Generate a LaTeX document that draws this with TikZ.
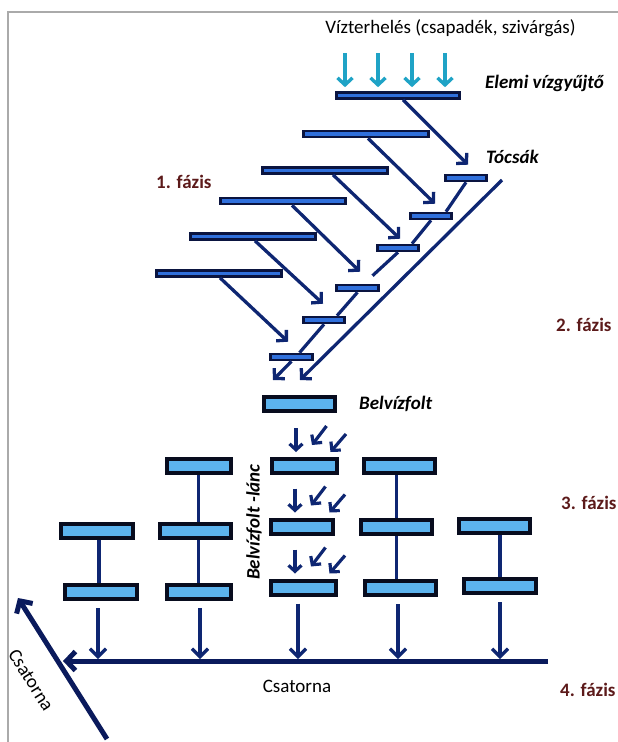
\documentclass[tikz,border=0pt]{standalone}
\usepackage{fontspec}
\setmainfont{Carlito}
\usetikzlibrary{arrows.meta,calc}
\definecolor{barOut}{HTML}{0A1440}
\definecolor{barIn}{HTML}{3070DC}
\definecolor{boxOut}{HTML}{080C1E}
\definecolor{boxIn}{HTML}{5CB3EE}
\definecolor{arrC}{HTML}{0E2672}
\definecolor{chanC}{HTML}{0A1A5C}
\definecolor{cyanC}{HTML}{1FA3C6}
\definecolor{phaseC}{HTML}{5C1A1A}
\definecolor{frameC}{HTML}{AAAAAA}
\tikzset{
  thinbar/.style={rectangle, draw=barOut, fill=barIn, line width=2.6pt, minimum height=6pt, inner sep=0pt},
  bbox/.style={rectangle, draw=boxOut, fill=boxIn, line width=4pt, minimum height=14pt, inner sep=0pt},
  arr/.style={draw=arrC, line width=3.3pt, -{Straight Barb[length=7pt,width=15pt]}},
  sarr/.style={draw=arrC, line width=3.2pt, -{Straight Barb[length=6pt,width=13pt]}},
  varr/.style={draw=arrC, line width=3.2pt, -{Straight Barb[length=8pt,width=16pt]}},
  carr/.style={draw=cyanC, line width=3.4pt, -{Straight Barb[length=7pt,width=15pt]}},
  link/.style={draw=arrC, line width=3.2pt},
  chan/.style={draw=chanC, line width=5pt, -{Straight Barb[length=9pt,width=19pt]}},
  lab/.style={font=\fontsize{19}{22}\selectfont, inner sep=0pt},
  blab/.style={font=\fontsize{19}{22}\selectfont\bfseries\itshape, inner sep=0pt, anchor=west},
  phase/.style={font=\fontsize{19}{22}\selectfont\bfseries, text=phaseC, inner sep=0pt, anchor=west},
}
\begin{document}
\begin{tikzpicture}[x=1pt,y=-1pt]
\useasboundingbox (0,0) rectangle (618,742);
\draw[frameC, line width=1.5pt] (8,742) -- (8,12) -- (618,12);

% labels
\node[lab] (vt) at (450.5,28) {Vízterhelés (csapadék, szivárgás)};
\node[blab] (lelemi) at (485,83) {Elemi vízgyűjtő};
\node[blab] (ltocs) at (486,157) {Tócsák};
\node[phase] (p1) at (156,182) {1. fázis};
\node[phase] (p2) at (556,325) {2. fázis};
\node[phase] (p3) at (561,503) {3. fázis};
\node[phase] (p4) at (560,690) {4. fázis};
\node[blab] (lbelv) at (359,404) {Belvízfolt};
\node[blab, anchor=center, rotate=90] (llanc) at (254,522) {Belvízfolt -lánc};
\node[lab] (lcs1) at (297,686) {Csatorna};
\node[lab, rotate=-57.7] (lcs2) at (31,680) {Csatorna};

% long thin bars
\node[thinbar, minimum width=123.5pt] (b1) at (398,95.5) {};
\node[thinbar, minimum width=125.5pt] (b2) at (366,134) {};
\node[thinbar, minimum width=125.5pt] (b3) at (325,170.5) {};
\node[thinbar, minimum width=125.5pt] (b4) at (283,201) {};
\node[thinbar, minimum width=125.5pt] (b5) at (253,236.5) {};
\node[thinbar, minimum width=125.5pt] (b6) at (219,273.5) {};

% small bars (Tócsák)
\node[thinbar, minimum width=41.5pt] (s1) at (466,178) {};
\node[thinbar, minimum width=41.5pt] (s2) at (431,216) {};
\node[thinbar, minimum width=41.5pt] (s3) at (398,248) {};
\node[thinbar, minimum width=41.5pt] (s4) at (357.5,288) {};
\node[thinbar, minimum width=41.5pt] (s5) at (324,320) {};
\node[thinbar, minimum width=41.5pt] (s6) at (291.5,357) {};

% Belvizfolt
\node[bbox, minimum width=71pt] (bf) at (299.5,404) {};

% columns of boxes
\node[bbox, minimum width=72pt] (c1a) at (97,530.5) {};
\node[bbox, minimum width=72pt] (c1b) at (101,592) {};
\node[bbox, minimum width=64pt] (c2a) at (198.5,466) {};
\node[bbox, minimum width=71pt] (c2b) at (195.5,531) {};
\node[bbox, minimum width=64pt] (c2c) at (199,592) {};
\node[bbox, minimum width=65pt] (c3a) at (304.5,466) {};
\node[bbox, minimum width=62pt] (c3b) at (302,526.5) {};
\node[bbox, minimum width=65pt] (c3c) at (303.5,587.5) {};
\node[bbox, minimum width=71pt] (c4a) at (399.5,466) {};
\node[bbox, minimum width=71pt] (c4b) at (396.5,527) {};
\node[bbox, minimum width=71pt] (c4c) at (400.5,588) {};
\node[bbox, minimum width=71pt] (c5a) at (494.5,526) {};
\node[bbox, minimum width=72pt] (c5b) at (500,586) {};

% rain arrows
\foreach \dx in {-53,-20,14,47}
  \draw[carr] ([xshift=\dx pt,yshift=38pt]b1.north) -- ([xshift=\dx pt,yshift=4pt]b1.north);

% arrows from bars to puddles
\draw[arr] ([xshift=5pt]b1.south) -- ([xshift=2pt,yshift=9pt]s1.north);
\draw[arr] ([xshift=2pt]b2.south) -- ([xshift=4pt,yshift=8pt]s2.north);
\draw[arr] ([xshift=8pt]b3.south) -- ([xshift=2pt,yshift=5pt]s3.north);
\draw[arr] ([xshift=9pt]b4.south) -- ([xshift=2.5pt,yshift=12pt]s4.north);
\draw[arr] ([xshift=2pt]b5.south) -- ([xshift=-1pt,yshift=12pt]s5.north);
\draw[arr] ([xshift=1pt]b6.south) -- ([xshift=-3.5pt,yshift=11pt]s6.north);

% chain of puddles
\draw[link] (s1.south) -- ([xshift=15pt]s2.north);
\draw[link] (s2.south) -- ([xshift=14pt]s3.north);
\draw[link] (s3.south) -- ([xshift=15pt,yshift=8pt]s4.north);
\draw[link] (s4.south) -- ([xshift=13pt]s5.north);
\draw[link] (s5.south) -- ([xshift=8pt]s6.north);
\draw[arr] (s6.south) -- ([xshift=-26.5pt,yshift=15pt]bf.north);
\coordinate (dtop) at (502,180);
\draw[arr] (dtop) -- ([xshift=0.5pt,yshift=15pt]bf.north);

% triple arrows in the chain column
\foreach \b in {c3a,c3b,c3c} {
  \draw[sarr] ([xshift=26pt,yshift=29pt]\b.north west) -- ([xshift=26pt,yshift=5pt]\b.north west);
  \draw[sarr] ([xshift=56.5pt,yshift=31pt]\b.north west) -- ([xshift=42pt,yshift=12pt]\b.north west);
  \draw[sarr] ([xshift=76pt,yshift=23pt]\b.north west) -- ([xshift=60.5pt,yshift=5pt]\b.north west);
}

% vertical links
\draw[link] ([xshift=2pt]c1a.south) -- ([xshift=-2pt]c1b.north);
\draw[link] (c2a.south) -- (c2a.south |- c2b.north);
\draw[link] (c2a.south |- c2b.south) -- (c2a.south |- c2c.north);
\draw[link] (c4b.north |- c4a.south) -- (c4b.north);
\draw[link] (c4b.south) -- (c4b.south |- c4c.north);
\draw[link] (c5b.north |- c5a.south) -- (c5b.north);

% channel
\coordinate (chL) at (63,661);
\coordinate (chR) at (548,661);
\draw[chan] (chR) -- (chL);
\foreach \b/\dx in {c1b/-3, c2c/1, c3c/-5.5, c4c/-2.5, c5b/0}
  \draw[varr, shorten >=2pt] ([xshift=\dx pt,yshift=-7pt]\b.south) -- ([xshift=\dx pt]\b.south |- chL);

% main canal
\coordinate (cb) at (107,739);
\coordinate (ct) at (18,598);
\draw[chan] (cb) -- (ct);
\end{tikzpicture}
\end{document}
